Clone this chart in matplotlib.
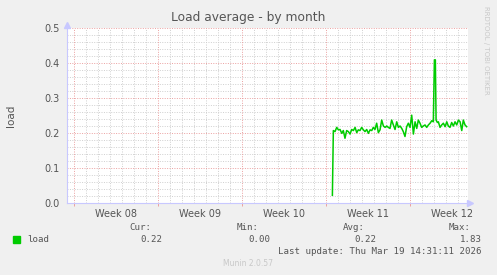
import numpy as np
import matplotlib.pyplot as plt

# days since start of Week 08
days = [21.53, 21.61, 21.75, 21.89, 22.03, 22.17, 22.31, 22.44, 22.58, 22.72,
        22.86, 23.00, 23.14, 23.28, 23.42, 23.56, 23.69, 23.83, 23.97, 24.11,
        24.25, 24.39, 24.53, 24.67, 24.81, 24.94, 25.08, 25.22, 25.36, 25.50,
        25.64, 25.78, 25.92, 26.06, 26.19, 26.33, 26.47, 26.61, 26.75, 26.89,
        27.03, 27.17, 27.31, 27.44, 27.58, 27.72, 27.86, 28.00, 28.14, 28.28,
        28.42, 28.56, 28.69, 28.83, 28.97, 29.11, 29.25, 29.39, 29.53, 29.67,
        29.81, 29.94, 30.03, 30.11, 30.17, 30.28, 30.36, 30.50, 30.64, 30.78,
        30.92, 31.06, 31.19, 31.33, 31.47, 31.61, 31.75, 31.89, 32.03, 32.17,
        32.31, 32.44, 32.58, 32.72]
load = [0.022, 0.207, 0.204, 0.216, 0.209, 0.210, 0.199, 0.207, 0.185, 0.207,
        0.204, 0.197, 0.210, 0.207, 0.216, 0.201, 0.209, 0.207, 0.216, 0.209,
        0.204, 0.210, 0.199, 0.209, 0.207, 0.216, 0.210, 0.228, 0.201, 0.209,
        0.237, 0.220, 0.216, 0.220, 0.216, 0.213, 0.237, 0.223, 0.210, 0.232,
        0.216, 0.220, 0.213, 0.204, 0.190, 0.218, 0.228, 0.216, 0.251, 0.197,
        0.232, 0.213, 0.237, 0.228, 0.216, 0.220, 0.223, 0.216, 0.223, 0.228,
        0.235, 0.232, 0.409, 0.409, 0.237, 0.230, 0.232, 0.216, 0.223, 0.228,
        0.218, 0.232, 0.220, 0.216, 0.230, 0.220, 0.232, 0.223, 0.237, 0.232,
        0.207, 0.237, 0.223, 0.218]

week_labels = ["Week 08", "Week 09", "Week 10", "Week 11", "Week 12"]
week_mid = [3.5, 10.5, 17.5, 24.5, 31.5]
week_start = [0, 7, 14, 21, 28]
y_ticks = [0, 0.1, 0.2, 0.3, 0.4, 0.5]
y_labels = ["0.0", "0.1", "0.2", "0.3", "0.4", "0.5"]

W, H = 497, 275
fig = plt.figure(figsize=(W / 100, H / 100), dpi=100, facecolor="#f0f0f0")
ax = fig.add_axes([67 / W, 1 - 203 / H, (468 - 67) / W, (203 - 28) / H])
ax.set_facecolor("white")

ax.set_xlim(-0.583, 32.83)
ax.set_ylim(0, 0.5)

grey = "#cfcfcf"
red = "#eba0a0"
dots = (0, (1, 1.5))
# grid: minor grey, major red
for d in range(0, 33):
    if d % 7 != 0:
        ax.axvline(d, color=grey, lw=0.7, ls=dots, zorder=1)
for v in np.arange(0.02, 0.5, 0.02):
    if round(v * 50) % 5 != 0:
        ax.axhline(v, color=grey, lw=0.7, ls=dots, zorder=1)
for d in week_start:
    ax.axvline(d, color=red, lw=0.7, ls=dots, zorder=1)
for v in y_ticks[1:]:
    ax.axhline(v, color=red, lw=0.7, ls=dots, zorder=1)

ax.plot(days, load, color="#00cc00", lw=1.1, zorder=3)

for s in ["top", "right"]:
    ax.spines[s].set_visible(False)
for s in ["left", "bottom"]:
    ax.spines[s].set_color("#c8c8ff")
    ax.spines[s].set_linewidth(0.8)
    ax.spines[s].set_zorder(4)
# arrows
ax.plot(1.006, 0, ">", color="#c8c8ff", ms=4, transform=ax.transAxes, clip_on=False)
ax.plot(0, 1.015, "^", color="#c8c8ff", ms=4, transform=ax.transAxes, clip_on=False)

ax.set_yticks(y_ticks)
ax.set_yticklabels(y_labels)
ax.set_xticks(week_mid)
ax.set_xticklabels(week_labels)
ax.tick_params(axis="both", length=0, labelsize=7, labelcolor="#555555", pad=5)
ax.tick_params(axis="x", pad=4)

# small red ticks below the axis at week starts
ax.set_xticks(week_start, minor=True)
ax.tick_params(axis="x", which="minor", length=2.5, width=0.7, color=red,
               direction="out")

ax.set_ylabel("load", fontsize=7.5, color="#555555", labelpad=21)

fig.text(248 / W, 1 - 18 / H, "Load average - by month", ha="center", va="center",
         fontsize=8.8, color="#555555")
fig.text(486 / W, 1 - 6 / H, "RRDTOOL / TOBI OETIKER", rotation=270, ha="center",
         va="top", fontsize=5, color="#c8c8c8")

mono = dict(family="DejaVu Sans Mono", fontsize=6.6, color="#555555")
fig.patches.append(plt.Rectangle((13 / W, 1 - 243 / H), 7 / W, 7 / H,
                                 transform=fig.transFigure, color="#00cc00"))
fig.text(27 / W, 1 - 239 / H, "load", ha="left", va="center", **mono)
for xr, hdr, val in [(162, "Cur:", "0.22"), (270, "Min:", "0.00"),
                     (376, "Avg:", "0.22"), (482, "Max:", "1.83")]:
    fig.text((xr - 11) / W, 1 - 228 / H, hdr, ha="right", va="center", **mono)
    fig.text(xr / W, 1 - 239 / H, val, ha="right", va="center", **mono)
fig.text(482 / W, 1 - 251 / H, "Last update: Thu Mar 19 14:31:11 2026",
         ha="right", va="center", **mono)
fig.text(248 / W, 1 - 264 / H, "Munin 2.0.57", ha="center", va="center",
         fontsize=5.5, color="#c8c8c8")

fig.savefig("out.png", dpi=100, facecolor=fig.get_facecolor())
